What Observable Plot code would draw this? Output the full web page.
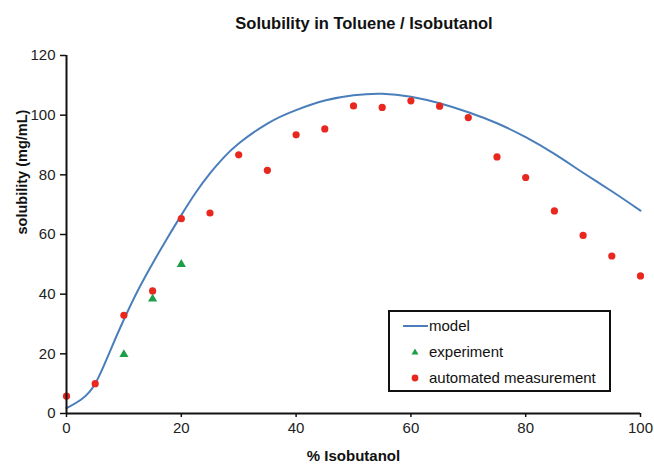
<!DOCTYPE html>
<html>
<head>
<meta charset="utf-8">
<script src="https://cdn.jsdelivr.net/npm/d3@7"></script>
<script src="https://cdn.jsdelivr.net/npm/@observablehq/plot@0.6"></script>
<style>
  html, body { margin: 0; padding: 0; background: #fff; }
  body { width: 654px; height: 467px; position: relative; overflow: hidden; font-family: "Liberation Sans", Arial, sans-serif; }
  #title { height: 38px; padding-top: 5px; line-height: 36px; font-weight: bold; font-size: 16.5px; color: #111; text-align: center; padding-left: 74px; box-sizing: border-box; width: 654px; }
  #legend { position: absolute; left: 388px; top: 310px; width: 219px; height: 78px; border: 2px solid #111; background: #fff; font-size: 15px; color: #111; }
  #legend .row { position: absolute; left: 0; height: 20px; line-height: 20px; }
  #legend svg { position: absolute; left: 12px; top: 0; }
  #legend span { position: absolute; left: 39px; white-space: nowrap; }
</style>
</head>
<body>
<div id="title">Solubility in Toluene / Isobutanol</div>
<div id="chart"></div>
<div id="legend"></div>
<script>
// Data
const pctModel = [0, 2.5, 5, 7.5, 10, 12.5, 15, 17.5, 20, 22.5, 25, 27.5, 30, 35, 40, 45, 50, 55, 60, 65, 70, 75, 80, 85, 90, 95, 100];
const modelVals = [1.8, 4.6, 10, 20.5, 31.5, 41.5, 50.3, 58.6, 66.5, 74, 80.5, 86, 90.5, 97.2, 101.7, 104.9, 106.7, 107.2, 106.2, 104, 101, 97.3, 92.6, 87, 80.7, 74.5, 68];
const pctExp = [10, 15, 20];
const expVals = [19.8, 38.4, 50];
const pctAuto = [0, 5, 10, 15, 20, 25, 30, 35, 40, 45, 50, 55, 60, 65, 70, 75, 80, 85, 90, 95, 100];
const autoVals = [5.8, 10, 32.9, 41.1, 65.3, 67.2, 86.7, 81.5, 93.4, 95.4, 103.1, 102.6, 104.8, 103, 99.2, 86, 79.1, 67.9, 59.7, 52.8, 46.1];
const xTicks = [0, 20, 40, 60, 80, 100];
const yTicks = [0, 20, 40, 60, 80, 100, 120];
const seriesNames = ["model", "experiment", "automated measurement"];

const modelData = pctModel.map((x, i) => ({x, y: modelVals[i]}));
const expData = pctExp.map((x, i) => ({x, y: expVals[i]}));
const autoData = pctAuto.map((x, i) => ({x, y: autoVals[i]}));

const blue = "#4a7ebb", green = "#1e9e4a", red = "#e8281e";

const chart = Plot.plot({
  width: 654,
  height: 429,
  marginLeft: 66,
  marginRight: 14,
  marginTop: 17,
  marginBottom: 54,
  style: {fontSize: "15px", fontFamily: "Liberation Sans, Arial, sans-serif", color: "#222", background: "#fff"},
  x: {domain: [0, 100]},
  y: {domain: [0, 120]},
  marks: [
    Plot.axisY({ticks: yTicks, tickSize: 6, tickPadding: 5, label: null, stroke: "#111", strokeWidth: 1.5}),
    Plot.axisX({ticks: xTicks, tickSize: 4, tickPadding: 5, label: null, stroke: "#111", strokeWidth: 1.5}),
    Plot.line(modelData, {x: "x", y: "y", stroke: blue, strokeWidth: 2, curve: "natural"}),
    Plot.dot(autoData, {x: "x", y: "y", r: 3.6, fill: red, stroke: "none"}),
    Plot.dot(expData, {x: "x", y: "y", r: 3.4, symbol: "triangle", fill: green, stroke: "none"}),
    Plot.ruleX([0], {stroke: "#111", strokeWidth: 2}),
    Plot.ruleY([0], {stroke: "#111", strokeWidth: 2}),
    Plot.text(["solubility (mg/mL)"], {frameAnchor: "left", dx: -44, rotate: -90, fontWeight: "bold", fontSize: 14.5, fill: "#111"}),
    Plot.text(["% Isobutanol"], {frameAnchor: "bottom", dy: 47, fontWeight: "bold", fontSize: 15, fill: "#111"})
  ]
});
document.getElementById("chart").appendChild(chart);

// Legend
const legend = document.getElementById("legend");
const rowsY = [4, 30, 56];
const swatches = [
  '<svg width="26" height="20"><line x1="1" y1="10" x2="26" y2="10" stroke="' + blue + '" stroke-width="2"/></svg>',
  '<svg width="26" height="20"><path d="M13,6.5 L16.5,12.5 L9.5,12.5 Z" fill="' + green + '"/></svg>',
  '<svg width="26" height="20"><circle cx="13" cy="10" r="3.4" fill="' + red + '"/></svg>'
];
seriesNames.forEach((name, i) => {
  const row = document.createElement("div");
  row.className = "row";
  row.style.top = rowsY[i] + "px";
  row.innerHTML = swatches[i] + "<span>" + name + "</span>";
  legend.appendChild(row);
});
</script>
</body>
</html>
